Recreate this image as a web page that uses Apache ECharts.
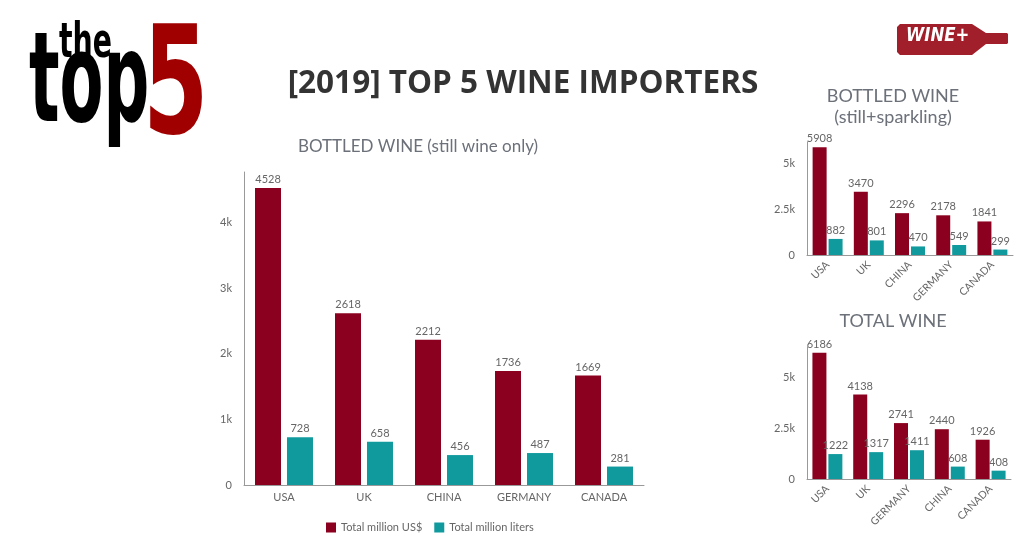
<!DOCTYPE html>
<html>
<head>
<meta charset="utf-8">
<script src="https://cdn.jsdelivr.net/npm/echarts@6/dist/echarts.min.js"></script>
<style>
html,body{margin:0;padding:0;background:#fff;}
#chart{width:1024px;height:538px;}
</style>
</head>
<body>
<div id="chart"></div>
<script>
// ---- data ----
const mainCategories = ['USA', 'UK', 'CHINA', 'GERMANY', 'CANADA'];
const mainUsd = [4528, 2618, 2212, 1736, 1669];
const mainLiters = [728, 658, 456, 487, 281];

const bottledCategories = ['USA', 'UK', 'CHINA', 'GERMANY', 'CANADA'];
const bottledUsd = [5908, 3470, 2296, 2178, 1841];
const bottledLiters = [882, 801, 470, 549, 299];

const totalCategories = ['USA', 'UK', 'GERMANY', 'CHINA', 'CANADA'];
const totalUsd = [6186, 4138, 2741, 2440, 1926];
const totalLiters = [1222, 1317, 1411, 608, 408];

const mainTicks = {0: '0', 1000: '1k', 2000: '2k', 3000: '3k', 4000: '4k'};
const smallTicks = {0: '0', 2500: '2.5k', 5000: '5k'};

const seriesNames = ['Total million US$', 'Total million liters'];
const RED = '#8b001e';
const TEAL = '#109a9e';
const GRAY = '#666';
const FONT = 'Lato';

const chart = echarts.init(document.getElementById('chart'), null, {renderer: 'canvas'});

function yAxis(grid, max, interval, ticks, fs) {
  return {
    gridIndex: grid, type: 'value', min: 0, max: max, interval: interval,
    axisLine: {show: true, lineStyle: {color: '#999', width: 1}},
    axisTick: {show: false},
    splitLine: {show: false},
    axisLabel: {
      color: GRAY, fontFamily: FONT, fontSize: fs, margin: 12,
      formatter: v => (ticks[v] !== undefined ? ticks[v] : '')
    }
  };
}
function xAxis(grid, cats, rotate, fs) {
  return {
    gridIndex: grid, type: 'category', data: cats,
    axisLine: {show: true, lineStyle: {color: '#999', width: 1}},
    axisTick: {show: false},
    axisLabel: {color: GRAY, fontFamily: FONT, fontSize: fs, rotate: rotate, margin: rotate ? 8 : 7, interval: 0}
  };
}
function bar(name, grid, data, color, width, gap) {
  return {
    name: name, type: 'bar', xAxisIndex: grid, yAxisIndex: grid, data: data,
    barWidth: width, barGap: gap,
    itemStyle: {color: color},
    label: {show: true, position: 'top', distance: 3, color: GRAY, fontFamily: FONT, fontSize: 11},
    emphasis: {disabled: true}, animation: false
  };
}

const option = {
  backgroundColor: '#fff',
  animation: false,
  textStyle: {fontFamily: FONT},
  grid: [
    {left: 244, top: 172, width: 400, height: 313},
    {left: 807, top: 142, width: 206, height: 113},
    {left: 807, top: 347, width: 204, height: 132}
  ],
  xAxis: [
    xAxis(0, mainCategories, 0, 11),
    xAxis(1, bottledCategories, 45, 10.5),
    xAxis(2, totalCategories, 45, 10.5)
  ],
  yAxis: [
    yAxis(0, 4770, 1000, mainTicks, 11),
    yAxis(1, 6200, 2500, smallTicks, 11),
    yAxis(2, 6470, 2500, smallTicks, 11)
  ],
  legend: {
    data: seriesNames, left: 321, top: 517,
    itemWidth: 10, itemHeight: 10, itemGap: 12, icon: 'rect',
    textStyle: {color: GRAY, fontFamily: FONT, fontSize: 11},
    selectedMode: false
  },
  series: [
    bar(seriesNames[0], 0, mainUsd, RED, 26, '23%'),
    bar(seriesNames[1], 0, mainLiters, TEAL, 26, '23%'),
    bar(seriesNames[0], 1, bottledUsd, RED, 14, '14%'),
    bar(seriesNames[1], 1, bottledLiters, TEAL, 14, '14%'),
    bar(seriesNames[0], 2, totalUsd, RED, 14, '14%'),
    bar(seriesNames[1], 2, totalLiters, TEAL, 14, '14%')
  ],
  graphic: [
    // main title
    {type: 'text', x: 523, y: 84, silent: true,
     style: {text: '[2019] TOP 5 WINE IMPORTERS', fill: '#333', font: 'bold 31.5px "Open Sans"', textAlign: 'center', textVerticalAlign: 'middle'}},
    {type: 'text', x: 418, y: 147, silent: true,
     style: {text: 'BOTTLED WINE (still wine only)', fill: '#6b7079', font: '17px Lato', textAlign: 'center', textVerticalAlign: 'middle'}},
    {type: 'text', x: 893, y: 96, silent: true,
     style: {text: 'BOTTLED WINE', fill: '#6b7079', font: '18px Lato', textAlign: 'center', textVerticalAlign: 'middle'}},
    {type: 'text', x: 893, y: 117, silent: true,
     style: {text: '(still+sparkling)', fill: '#6b7079', font: '18px Lato', textAlign: 'center', textVerticalAlign: 'middle'}},
    {type: 'text', x: 893, y: 321, silent: true,
     style: {text: 'TOTAL WINE', fill: '#6b7079', font: '18px Lato', textAlign: 'center', textVerticalAlign: 'middle'}},
    // "the top 5" logo
    {type: 'text', x: 59, y: 21, scaleX: 0.71, scaleY: 1.2, silent: true,
     style: {text: 'the', fill: '#000', font: 'bold 40px "DejaVu Sans"', textAlign: 'left', textVerticalAlign: 'top'}},
    {type: 'text', x: 29, y: 27, scaleX: 0.8, scaleY: 1.55, silent: true,
     style: {text: 'top', fill: '#000', font: 'bold 80px "DejaVu Sans"', textAlign: 'left', textVerticalAlign: 'top'}},
    {type: 'text', x: 143, y: 20, scaleX: 0.94, scaleY: 1.49, silent: true,
     style: {text: '5', fill: '#a00000', font: 'bold 100px "DejaVu Sans"', textAlign: 'left', textVerticalAlign: 'top', stroke: '#fff', lineWidth: 1.5}},
    // WINE+ bottle logo
    {type: 'polygon', silent: true,
     shape: {points: [[900, 24], [972, 24], [986, 33], [1007, 33], [1008, 34], [1008, 43], [1007, 44], [986, 44], [972, 55], [900, 55], [897, 52], [897, 27]]},
     style: {fill: '#a01f2a'}},
    {type: 'text', x: 906, y: 27, scaleX: 0.87, scaleY: 1.0, silent: true,
     style: {text: 'WINE+', fill: '#fff', font: 'italic bold 19px "DejaVu Sans"', textAlign: 'left', textVerticalAlign: 'top'}}
  ]
};
chart.setOption(option);
</script>
</body>
</html>
